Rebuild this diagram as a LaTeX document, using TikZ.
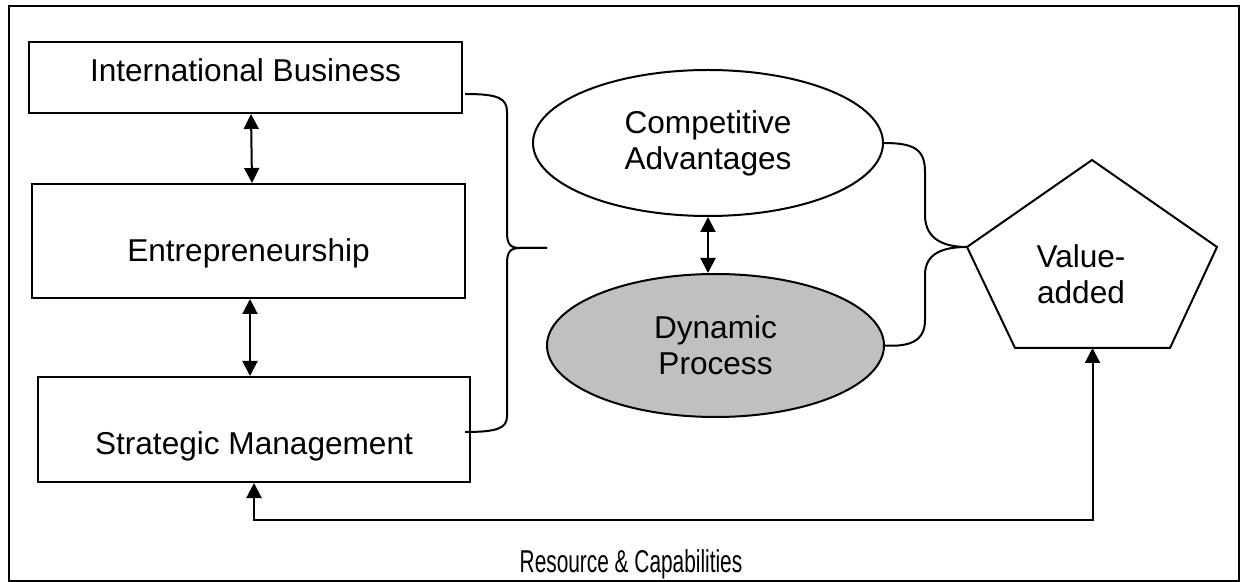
\documentclass[tikz,border=0pt]{standalone}
\usepackage{fontspec}
\setmainfont{Liberation Sans}
\newfontfamily\narrowfont[FakeStretch=0.66]{Liberation Sans}
\usetikzlibrary{positioning,shapes.geometric,arrows.meta,calc}
\definecolor{procgray}{RGB}{192,192,192}

\begin{document}
\begin{tikzpicture}[x=0.5pt,y=-0.5pt,
  every node/.style={font=\fontsize{15.8}{18}\selectfont},
  field/.style={draw,line width=1pt,inner sep=0pt,text depth=0pt,minimum width=216.5pt},
  topic/.style={draw,ellipse,line width=1pt,inner sep=0pt,align=center},
  dbl/.style={{Triangle[length=7.5pt,width=7.5pt]}-{Triangle[length=7.5pt,width=7.5pt]},line width=1pt},
  link/.style={line width=1pt}]
  \useasboundingbox (0,0) rectangle (1241,582);
  \draw[line width=1.4pt] (9,6) rectangle (1239,581);

  \node[field,text height=4.5pt,minimum height=35.5pt] (ib) at (245.5,77.5) {International Business};
  \node[field,text height=21pt,minimum height=57pt] (en) at (248.5,241) {Entrepreneurship};
  \node[field,text height=24.5pt,minimum height=52.5pt,minimum width=216pt] (sm) at (254,429.5) {Strategic Management};

  \node[topic,minimum width=175pt,minimum height=73pt] (ca) at (708,143) {Competitive\\Advantages};
  \node[topic,fill=procgray,minimum width=168.5pt,minimum height=71.5pt,below=28pt of ca,xshift=3.75pt] (dp) {Dynamic\\Process};

  \coordinate (pl) at (967,247);
  \coordinate (pt) at (1092,160);
  \coordinate (pr) at (1217,247);
  \coordinate (pbr) at (1170,348);
  \coordinate (pbl) at (1015,348);
  \coordinate (pb) at (1092.5,348);
  \draw[link] (pl) -- (pt) -- (pr) -- (pbr) -- (pbl) -- cycle;
  \node[align=center] (va) at (1081,274) {Value-\\added};

  \coordinate (bt) at (465,94);
  \coordinate (bb) at (465,432);
  \coordinate (bm) at (547,248);
  \draw[link] (bt) .. controls (498,94) and (507,98) .. (507,112) -- (507,232) .. controls (507,244) and (510,248) .. (520,248) -- (bm);
  \draw[link] (bm) -- (520,248) .. controls (510,248) and (507,252) .. (507,264) -- (507,416) .. controls (507,428) and (498,432) .. (bb);

  \draw[link] (ca.east) .. controls (915,143) and (925,150) .. (925,172) -- (925,215) .. controls (925,240) and (945,247) .. (pl);
  \draw[link] (pl) .. controls (945,247) and (925,252) .. (925,275) -- (925,320) .. controls (925,341) and (910,347) .. (dp.east);

  \draw[dbl] ($(ib.south)+(5.5,0)$) -- ($(en.north)+(3.5,0)$);
  \draw[dbl] ($(en.south)+(1.5,0)$) -- ($(sm.north)+(-4,0)$);
  \draw[dbl] (ca.south) -- (ca.south |- dp.north);
  \coordinate (rc) at (1092.5,520);
  \draw[dbl] (sm.south) |- (rc) -- (pb);

  \node[anchor=base,font=\narrowfont\fontsize{15.8}{18}\selectfont] (rescap) at (631,572) {Resource \& Capabilities};
\end{tikzpicture}
\end{document}
